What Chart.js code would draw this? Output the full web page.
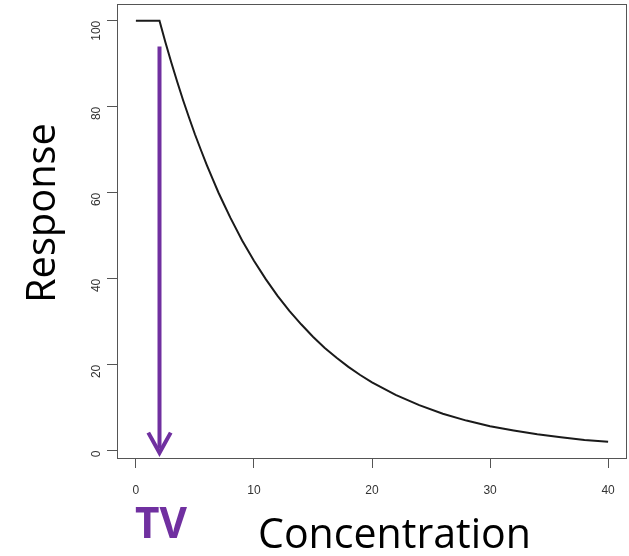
<!DOCTYPE html>
<html>
<head>
<meta charset="utf-8">
<script src="https://cdn.jsdelivr.net/npm/chart.js@4"></script>
<style>
  html, body { margin: 0; padding: 0; background: #fff; }
  #wrap { width: 629px; height: 556px; position: relative; }
</style>
</head>
<body>
<div id="wrap"><canvas id="c" width="629" height="556"></canvas></div>
<script>
// response curve: plateau at 100 up to the threshold, then decays
const conc = [0, 1, 2, 2.5, 3, 3.5, 4, 4.5, 5, 5.5, 6, 6.5, 7, 7.5, 8, 9, 10, 11, 12, 13, 14, 15,
  16, 17, 18, 19, 20, 22, 24, 26, 28, 30, 32, 34, 36, 38, 40]
const response = [100, 100, 100, 95.0, 90.3, 85.8, 81.5, 77.5, 73.6, 70.0, 66.5, 63.2, 60.0, 57.1,
  54.2, 48.9, 44.2, 39.9, 36.0, 32.5, 29.4, 26.5, 23.9, 21.6, 19.5, 17.6, 15.9, 13.0, 10.6, 8.6,
  7.0, 5.7, 4.7, 3.8, 3.1, 2.5, 2.1]

// threshold value arrow
const tvX = 2
const arrowTop = 94
const arrowTip = -0.5

const xTicks = [0, 10, 20, 30, 40]
const yTicks = [0, 20, 40, 60, 80, 100]

const PURPLE = '#7030A0'
const AXIS = '#555'

const curve = conc.map((x, i) => ({x, y: response[i]}))

const frame = {
  id: 'frame',
  afterDraw(chart){
    const {ctx, chartArea: a} = chart
    ctx.save()
    ctx.strokeStyle = AXIS
    ctx.lineWidth = 1
    ctx.strokeRect(Math.round(a.left) + 0.5, Math.round(a.top) + 0.5,
      Math.round(a.right - a.left) - 1, Math.round(a.bottom - a.top))
    ctx.restore()
  }
}

// size a label so it spans the given width
function fitFont(ctx, text, width, weight, family){
  ctx.font = `${weight} 40px ${family}`
  const size = 40 * width / ctx.measureText(text).width
  return `${weight} ${size.toFixed(1)}px ${family}`
}

const labels = {
  id: 'labels',
  afterDraw(chart){
    const ctx = chart.ctx
    ctx.save()
    ctx.fillStyle = '#000'
    ctx.textBaseline = 'alphabetic'
    ctx.textAlign = 'left'
    ctx.font = fitFont(ctx, 'Concentration', 273, 'normal', '"Open Sans"')
    ctx.fillText('Concentration', 258, 548)
    ctx.save()
    ctx.translate(55, 303)
    ctx.rotate(-Math.PI / 2)
    ctx.font = fitFont(ctx, 'Response', 180, 'normal', '"Open Sans"')
    ctx.fillText('Response', 0, 0)
    ctx.restore()
    ctx.fillStyle = PURPLE
    ctx.font = fitFont(ctx, 'TV', 52, 'bold', '"Open Sans"')
    ctx.fillText('TV', 135, 538)
    ctx.restore()
  }
}

new Chart(document.getElementById('c'), {
  type: 'scatter',
  data: {
    datasets: [
      {
        data: curve,
        showLine: true,
        borderColor: '#1a1a1a',
        borderWidth: 2,
        pointRadius: 0,
        tension: 0
      },
      {
        data: [{x: tvX, y: arrowTop}, {x: tvX, y: arrowTip + 1}],
        showLine: true,
        borderColor: PURPLE,
        borderWidth: 4,
        pointRadius: 0,
        borderCapStyle: 'butt'
      },
      {
        data: [{x: tvX - 0.95, y: 4.2}, {x: tvX, y: arrowTip}, {x: tvX + 0.95, y: 4.2}],
        showLine: true,
        borderColor: PURPLE,
        borderWidth: 4,
        pointRadius: 0,
        borderJoinStyle: 'miter',
        borderCapStyle: 'butt'
      }
    ]
  },
  options: {
    responsive: false,
    animation: false,
    events: [],
    layout: {padding: {top: 4, right: 2, left: 0, bottom: 0}},
    plugins: {legend: {display: false}, tooltip: {enabled: false}},
    scales: {
      x: {
        type: 'linear',
        min: -1.6,
        max: 41.6,
        afterBuildTicks: s => { s.ticks = xTicks.map(v => ({value: v})) },
        afterFit: s => { s.height = 98; s.paddingLeft = 0; s.paddingRight = 0 },
        border: {display: false},
        grid: {drawOnChartArea: false, drawTicks: true, tickLength: 10, color: AXIS},
        ticks: {color: '#333', font: {family: 'Liberation Sans', size: 12}, padding: 15, maxRotation: 0}
      },
      y: {
        type: 'linear',
        min: -1.7,
        max: 103.9,
        afterBuildTicks: s => { s.ticks = yTicks.map(v => ({value: v})) },
        afterFit: s => { s.width = 117; s.paddingTop = 0; s.paddingBottom = 0 },
        border: {display: false},
        grid: {drawOnChartArea: false, drawTicks: true, tickLength: 10, color: AXIS},
        ticks: {color: '#333', font: {family: 'Liberation Sans', size: 12}, padding: 10, minRotation: 90, maxRotation: 90}
      }
    }
  },
  plugins: [frame, labels]
})
</script>
</body>
</html>
